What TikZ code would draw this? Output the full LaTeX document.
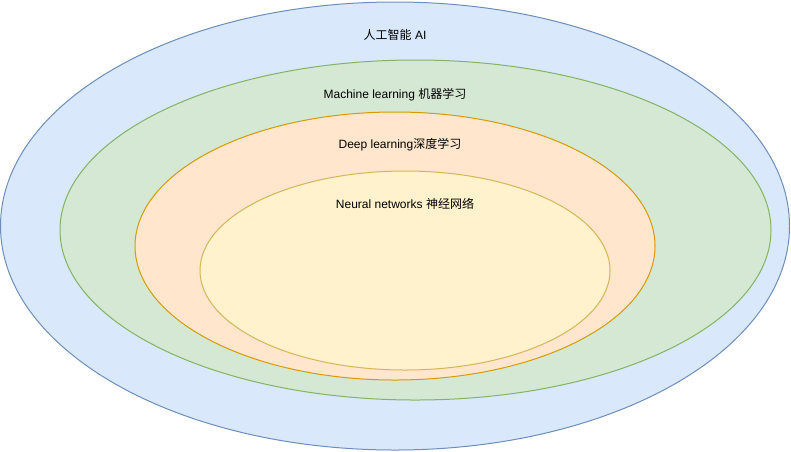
\documentclass[tikz,border=0pt]{standalone}
\usepackage{fontspec}
\setmainfont{Liberation Sans}
\newfontfamily\cjk{Noto Sans CJK SC}
\usetikzlibrary{calc, positioning}

\definecolor{aifill}{HTML}{DAE8FC}
\definecolor{aidraw}{HTML}{6C8EBF}
\definecolor{mlfill}{HTML}{D5E8D4}
\definecolor{mldraw}{HTML}{82B366}
\definecolor{dlfill}{HTML}{FFE6CC}
\definecolor{dldraw}{HTML}{D79B00}
\definecolor{nnfill}{HTML}{FFF2CC}
\definecolor{nndraw}{HTML}{D6B656}

\tikzset{
  ring/.style={line width=0.75pt},
  caption/.style={inner sep=1pt, font=\fontsize{9}{11}\selectfont}
}

\begin{document}
\begin{tikzpicture}[x=0.75pt, y=-0.75pt]
\useasboundingbox (0,0) rectangle (791,451);

% nested sets, outermost first
\draw[ring, draw=aidraw, fill=aifill] (395,226) ellipse [x radius=394.5, y radius=224];
\draw[ring, draw=mldraw, fill=mlfill] (415.5,230) ellipse [x radius=355.5, y radius=170];
\draw[ring, draw=dldraw, fill=dlfill] (395,246) ellipse [x radius=260, y radius=134];
\draw[ring, draw=nndraw, fill=nnfill] (405,270.5) ellipse [x radius=205, y radius=99.5];

\node[caption] (ai) at (395,35) {{\cjk 人工智能} AI};
\node[caption] (ml) at (395,95) {Machine learning {\cjk 机器学习}};
\node[caption] (dl) at (400,145) {Deep learning{\cjk 深度学习}};
\node[caption] (nn) at (405,204) {Neural networks {\cjk 神经网络}};
\end{tikzpicture}
\end{document}
